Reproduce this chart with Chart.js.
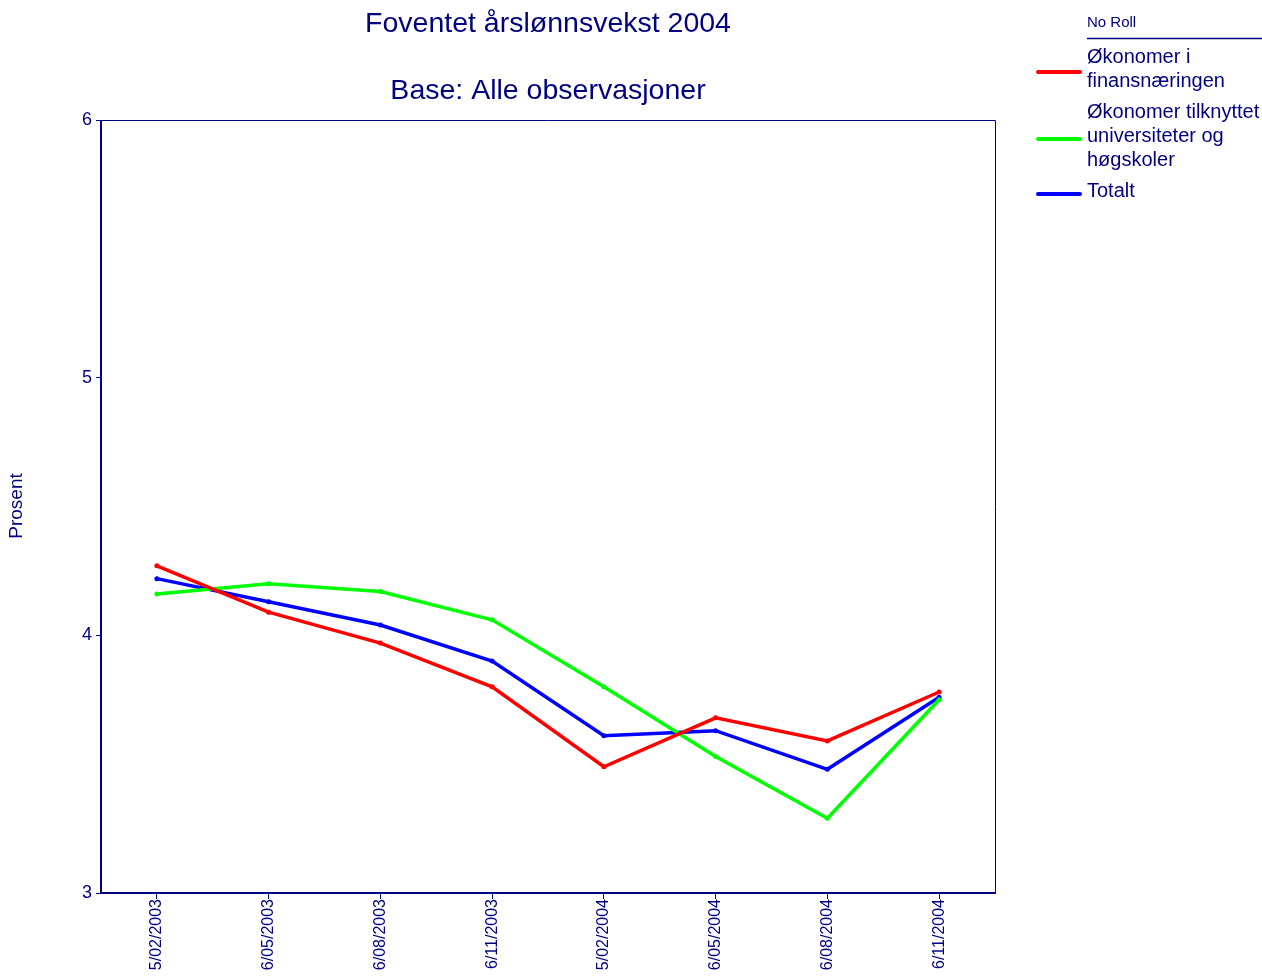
<!DOCTYPE html>
<html>
<head>
<meta charset="utf-8">
<script src="https://cdn.jsdelivr.net/npm/chart.js@4/dist/chart.umd.min.js"></script>
<style>
  html, body { margin: 0; padding: 0; background: #fff; }
  #wrap { width: 1262px; height: 976px; position: relative; }
</style>
</head>
<body>
<div id="wrap"><canvas id="chart"></canvas></div>
<script>
// ---------- DATA ----------
const categories = ["5/02/2003", "6/05/2003", "6/08/2003", "6/11/2003", "5/02/2004", "6/05/2004", "6/08/2004", "6/11/2004"];
const finans = [4.27, 4.09, 3.97, 3.80, 3.49, 3.68, 3.59, 3.78];
const universitet = [4.16, 4.20, 4.17, 4.06, 3.80, 3.53, 3.29, 3.75];
const totalt = [4.22, 4.13, 4.04, 3.90, 3.61, 3.63, 3.48, 3.76];
const yTicks = [3, 4, 5, 6];

const titleLines = ["Foventet årslønnsvekst 2004", "Base: Alle observasjoner"];
const legendTitle = "No Roll";
const legendLabels = [["Økonomer i", "finansnæringen"], ["Økonomer tilknyttet", "universiteter og", "høgskoler"], ["Totalt"]];

const NAVY = "#000080";
const FONT = "'Liberation Sans', Arial, sans-serif";

// ---------- TITLE, LEGEND, FRAME ----------
const decor = {
  id: "decor",
  afterDraw(chart) {
    const ctx = chart.ctx;
    const a = chart.chartArea;
    ctx.save();
    // frame
    ctx.strokeStyle = NAVY;
    ctx.lineWidth = 1;
    ctx.beginPath();
    ctx.moveTo(a.left, a.top + 0.5);
    ctx.lineTo(a.right + 0.5, a.top + 0.5);
    ctx.lineTo(a.right + 0.5, a.bottom);
    ctx.stroke();
    ctx.lineWidth = 2;
    ctx.beginPath();
    ctx.moveTo(a.left, a.top);
    ctx.lineTo(a.left, a.bottom);
    ctx.lineTo(a.right + 1, a.bottom);
    ctx.stroke();

    // title
    ctx.fillStyle = NAVY;
    ctx.textAlign = "center";
    ctx.textBaseline = "middle";
    ctx.font = "28.5px " + FONT;
    const cx = (a.left + a.right) / 2;
    ctx.fillText(titleLines[0], cx, 24);
    ctx.fillText(titleLines[1], cx, 91);

    // y axis title
    ctx.save();
    ctx.translate(17, 506);
    ctx.rotate(-Math.PI / 2);
    ctx.font = "19px " + FONT;
    ctx.fillText("Prosent", 0, 0);
    ctx.restore();

    // legend
    ctx.textAlign = "left";
    ctx.font = "15px " + FONT;
    ctx.fillText(legendTitle, 1087, 23);
    ctx.lineWidth = 1.5;
    ctx.beginPath();
    ctx.moveTo(1087, 38.5);
    ctx.lineTo(1262, 38.5);
    ctx.stroke();

    ctx.font = "20px " + FONT;
    let y = 57;
    chart.data.datasets.forEach((ds, i) => {
      const lines = legendLabels[i];
      const sampleY = lines.length === 1 ? y + 3 : y + (lines.length === 2 ? 15 : 27);
      ctx.strokeStyle = ds.borderColor;
      ctx.lineWidth = 4;
      ctx.lineCap = "round";
      ctx.beginPath();
      ctx.moveTo(1038, sampleY);
      ctx.lineTo(1080, sampleY);
      ctx.stroke();
      ctx.fillStyle = NAVY;
      lines.forEach((t, j) => ctx.fillText(t, 1087, y + j * 24));
      y += lines.length * 24 + 7;
    });
    ctx.restore();
  }
};

// ---------- CHART ----------
const ctx = document.getElementById("chart").getContext("2d");
const line = (label, data, color) => ({
  label: label,
  data: data,
  borderColor: color,
  backgroundColor: color,
  borderWidth: 3.5,
  pointRadius: 2.5,
  pointHoverRadius: 3,
  pointBorderWidth: 0,
  tension: 0
});

new Chart(ctx, {
  type: "line",
  data: {
    labels: categories,
    datasets: [
      line(legendLabels[0].join(" "), finans, "#ff0000"),
      line(legendLabels[1].join(" "), universitet, "#00ff00"),
      line(legendLabels[2].join(" "), totalt, "#0000ff")
    ]
  },
  plugins: [decor],
  options: {
    responsive: true,
    maintainAspectRatio: false,
    animation: false,
    layout: { padding: { top: 120, right: 267, left: 0, bottom: 0 } },
    plugins: {
      legend: { display: false },
      title: { display: false },
      tooltip: { enabled: false }
    },
    scales: {
      x: {
        offset: true,
        grid: { display: true, drawOnChartArea: false, offset: false, tickLength: 6, color: NAVY, lineWidth: 1 },
        border: { display: false },
        ticks: {
          color: NAVY,
          font: { size: 16, family: FONT },
          maxRotation: 90,
          minRotation: 90,
          autoSkip: false,
          padding: 0
        },
        afterFit(scale) { scale.height = 83; }
      },
      y: {
        min: 3,
        max: 6,
        afterBuildTicks(scale) { scale.ticks = yTicks.map(v => ({ value: v })); },
        grid: { display: true, drawOnChartArea: false, tickLength: 5, color: NAVY },
        border: { display: false },
        ticks: {
          color: NAVY,
          font: { size: 18, family: FONT },
          padding: 4
        },
        afterFit(scale) { scale.width = 101; }
      }
    }
  }
});
</script>
</body>
</html>
